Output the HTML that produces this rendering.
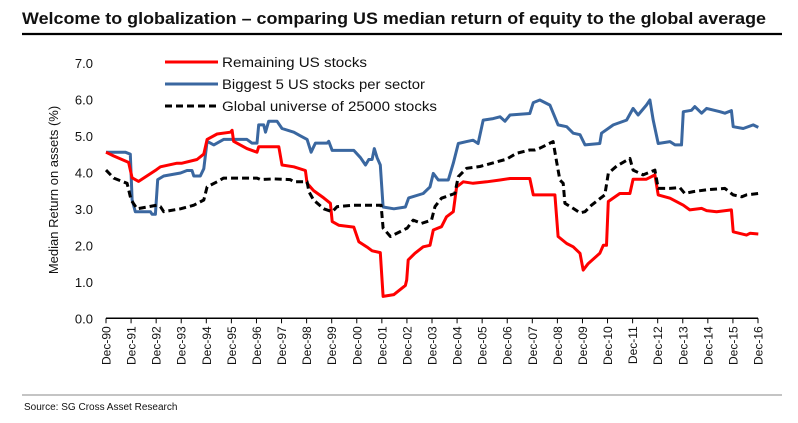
<!DOCTYPE html>
<html><head><meta charset="utf-8"><style>
body{margin:0;background:#fff;}
svg{display:block;font-family:"Liberation Sans",Arial,sans-serif;}
</style></head><body>
<svg id="c" width="798" height="423">
<text x="22" y="24" font-size="17" font-weight="bold" fill="#111" textLength="744" lengthAdjust="spacingAndGlyphs">Welcome to globalization – comparing US median return of equity to the global average</text>
<line x1="22" y1="34" x2="782" y2="34" stroke="#000" stroke-width="2.2"/>
<g id="axes"></g>
<g id="series"></g>
<g id="legend">
<line x1="165" y1="62" x2="218" y2="62" stroke="#ff0000" stroke-width="3"/>
<text x="222" y="67" font-size="13.5" fill="#111" textLength="145" lengthAdjust="spacingAndGlyphs">Remaining US stocks</text>
<line x1="165" y1="84" x2="218" y2="84" stroke="#3a67a0" stroke-width="3"/>
<text x="222" y="89" font-size="13.5" fill="#111" textLength="203" lengthAdjust="spacingAndGlyphs">Biggest 5 US stocks per sector</text>
<line x1="165" y1="106" x2="218" y2="106" stroke="#000" stroke-width="3" stroke-dasharray="7,4"/>
<text x="222" y="111" font-size="13.5" fill="#111" textLength="215" lengthAdjust="spacingAndGlyphs">Global universe of 25000 stocks</text>
</g>
<text transform="translate(58,190) rotate(-90)" text-anchor="middle" font-size="13" fill="#111">Median Return on assets (%)</text>
<line x1="22" y1="395" x2="782" y2="395" stroke="#888" stroke-width="1"/>
<text x="24" y="410" font-size="10" fill="#111">Source: SG Cross Asset Research</text>
</svg>
<script>
const xTickLabels=["Dec-90","Dec-91","Dec-92","Dec-93","Dec-94","Dec-95","Dec-96","Dec-97","Dec-98","Dec-99","Dec-00","Dec-01","Dec-02","Dec-03","Dec-04","Dec-05","Dec-06","Dec-07","Dec-08","Dec-09","Dec-10","Dec-11","Dec-12","Dec-13","Dec-14","Dec-15","Dec-16"];
const yTicks=[0,1,2,3,4,5,6,7];
const redT=[0,0.3,0.9,1.04,1.30,2.01,2.17,2.83,3.03,3.63,3.90,4.03,4.43,4.96,5.03,5.09,5.62,6.02,6.09,6.89,7.02,7.49,7.95,8.02,8.28,8.68,8.95,9.02,9.28,9.88,10.08,10.41,10.61,10.94,11.05,11.48,11.94,11.99,12.05,12.32,12.65,12.92,13.05,13.38,13.58,13.85,13.98,14.25,14.64,15.18,15.71,16.11,16.9,17.04,17.9,18.03,18.37,18.63,18.9,19.03,19.23,19.69,19.83,19.96,20.03,20.49,20.89,21.02,21.55,21.89,22.02,22.49,23.02,23.28,23.75,23.95,24.35,24.94,25.01,25.54,25.68,26.01];
const redV=[4.55,4.45,4.27,3.85,3.75,4.07,4.15,4.25,4.25,4.35,4.5,4.9,5.05,5.1,5.15,4.85,4.65,4.55,4.7,4.7,4.2,4.15,4.05,3.7,3.5,3.3,3.15,2.65,2.55,2.5,2.1,1.95,1.85,1.8,0.6,0.65,0.9,1.05,1.6,1.78,1.96,2.0,2.42,2.51,2.78,2.92,3.6,3.74,3.7,3.74,3.79,3.83,3.83,3.38,3.38,2.24,2.05,1.96,1.78,1.32,1.5,1.78,2.0,2.0,3.2,3.42,3.42,3.81,3.81,3.93,3.38,3.29,3.1,2.97,3.01,2.95,2.92,2.97,2.37,2.28,2.33,2.31];
const blueT=[0,0.77,0.97,1.04,1.17,1.77,1.84,1.97,2.06,2.30,2.97,3.23,3.43,3.50,3.76,3.90,4.03,4.30,4.69,5.09,5.62,5.82,6.02,6.09,6.29,6.36,6.49,6.82,7.02,7.49,7.75,8.02,8.18,8.35,8.82,8.88,9.02,9.88,10.15,10.35,10.48,10.61,10.70,10.81,10.94,11.05,11.48,11.94,12.07,12.65,12.92,13.05,13.25,13.65,13.85,14.05,14.38,14.64,14.84,15.04,15.44,15.71,15.91,16.11,16.9,17.04,17.3,17.7,18.03,18.37,18.63,18.9,19.1,19.69,19.76,20.23,20.76,21.02,21.22,21.55,21.69,21.82,22.02,22.49,22.69,22.95,23.02,23.35,23.48,23.75,23.95,24.48,24.68,24.94,25.01,25.41,25.81,26.01];
const blueV=[4.55,4.55,4.5,3.25,2.92,2.92,2.85,2.85,3.8,3.9,3.98,4.05,4.05,3.9,3.9,4.1,4.85,4.75,4.9,4.9,4.9,4.8,4.8,5.3,5.3,5.1,5.4,5.4,5.2,5.1,5.0,4.9,4.55,4.8,4.8,4.85,4.6,4.6,4.4,4.2,4.35,4.35,4.65,4.4,4.2,3.05,3.0,3.05,3.3,3.42,3.6,3.97,3.79,3.79,4.25,4.79,4.84,4.88,4.79,5.43,5.47,5.52,5.4,5.57,5.61,5.91,5.98,5.84,5.3,5.25,5.07,5.03,4.75,4.79,5.07,5.3,5.43,5.75,5.57,5.84,5.98,5.43,4.79,4.84,4.75,4.75,5.66,5.7,5.8,5.62,5.75,5.66,5.62,5.69,5.25,5.2,5.3,5.23];
const blackT=[0,0.31,0.84,1.0,1.24,2.03,2.17,2.30,2.97,3.50,3.90,4.03,4.43,4.69,6.02,6.16,6.69,7.35,7.49,8.02,8.09,8.28,8.68,9.02,9.22,9.88,10.97,11.05,11.34,12.01,12.25,12.58,12.98,13.12,13.38,13.91,14.05,14.38,14.91,15.97,16.37,16.9,17.1,17.3,17.83,17.97,18.1,18.23,18.3,18.63,18.9,19.1,19.36,19.89,20.03,20.36,20.89,21.02,21.42,21.89,22.02,22.49,22.88,23.08,23.42,23.95,24.68,25.01,25.35,25.54,26.01];
const blackV=[4.06,3.84,3.7,3.24,3.0,3.1,3.06,2.92,3.0,3.1,3.24,3.6,3.74,3.84,3.84,3.8,3.82,3.8,3.74,3.74,3.47,3.24,3.0,2.92,3.06,3.1,3.1,2.47,2.24,2.47,2.69,2.6,2.69,3.06,3.29,3.42,3.88,4.11,4.16,4.36,4.52,4.61,4.61,4.66,4.84,4.29,3.79,3.7,3.15,3.01,2.89,2.92,3.1,3.38,3.97,4.17,4.38,4.06,3.93,4.06,3.56,3.56,3.58,3.42,3.47,3.52,3.56,3.38,3.33,3.38,3.42];

const NS="http://www.w3.org/2000/svg";
const X0=106,X1=758,Y0=318.3,YS=36.5;
const xs=t=>X0+t*(X1-X0)/26;
const ys=v=>Y0-v*YS;
function mk(tag,attrs,parent){const e=document.createElementNS(NS,tag);for(const k in attrs)e.setAttribute(k,attrs[k]);parent.appendChild(e);return e;}
const ax=document.getElementById('axes');
const xl=mk('line',{x1:X0,y1:Y0,x2:X1,y2:Y0,stroke:'#000','stroke-width':1.5},ax);


yTicks.forEach(v=>{
  const t=mk('text',{x:93,y:ys(v)+5,'text-anchor':'end','font-size':13,fill:'#111'},ax);
  t.textContent=v.toFixed(1);
  
  
});
xTickLabels.forEach((lab,i)=>{
  const x=xs(i);
  const tk=mk('line',{x1:x,y1:Y0,x2:x,y2:Y0+5,stroke:'#000','stroke-width':1},ax);
  
  
  const t=mk('text',{transform:`translate(${x+4.5},${Y0+8}) rotate(-90)`,'text-anchor':'end','font-size':12,fill:'#111'},ax);
  t.textContent=lab;
  
  
});
const sg=document.getElementById('series');
function line(T,V,color,dash,name){
  const d=T.map((t,i)=>(i?'L':'M')+xs(t).toFixed(1)+','+ys(V[i]).toFixed(1)).join('');
  const p=mk('path',{d:d,fill:'none',stroke:color,'stroke-width':3,'stroke-linejoin':'round'},sg);
  if(dash)p.setAttribute('stroke-dasharray',dash);
  
  
}
line(blueT,blueV,'#3a67a0',null,'series-biggest5-line');
line(redT,redV,'#ff0000',null,'series-remaining-line');
line(blackT,blackV,'#000','7,4','series-global-line');
</script>
</body></html>
